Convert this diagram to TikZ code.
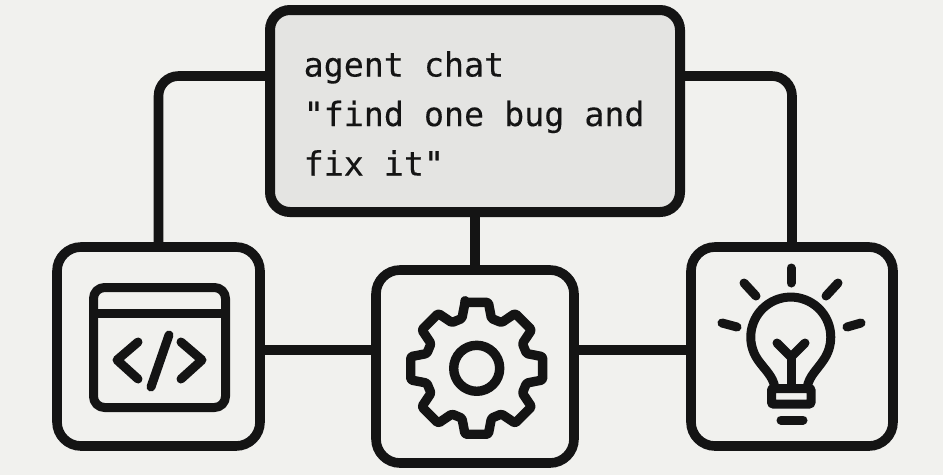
\documentclass[tikz,border=0pt]{standalone}
\usepackage{fontspec}
\usetikzlibrary{calc}
\newfontfamily\labelfont[FakeBold=0.3]{DejaVu Sans Mono}
\definecolor{paper}{HTML}{F1F1EE}
\definecolor{ink}{HTML}{141414}
\definecolor{panel}{HTML}{E4E4E2}
\tikzset{
  frame/.style={draw=ink,line width=9.6pt,rectangle,rounded corners=24pt,outer sep=0pt,inner sep=0pt},
  conn/.style={draw=ink,line width=9.6pt,rounded corners=20pt},
  glyph/.style={draw=ink,line width=9pt,line cap=round,line join=round},
}
\begin{document}
\begin{tikzpicture}[x=1pt,y=-1pt]
\useasboundingbox (0,0) rectangle (943,475);
\fill[paper] (0,0) rectangle (943,475);
% boxes
\node[frame,fill=panel,line width=10pt,rounded corners=20pt,minimum width=410pt,minimum height=202pt] (chat) at (475,111) {};
\node[frame,minimum width=203pt,minimum height=199pt] (code) at (158.5,346.5) {};
\node[frame,minimum width=198pt,minimum height=193pt] (gear) at (475,366.5) {};
\node[frame,minimum width=202pt,minimum height=199pt] (idea) at (792,346.5) {};
% connectors
\coordinate (chatL) at (chat.west |- 0,76);
\coordinate (chatR) at (chat.east |- 0,76);
\draw[conn] (chatL) -| (code.north);
\draw[conn] (chatR) -| (idea.north);
\draw[conn] (chat.south -| gear.north) -- (gear.north);
\coordinate (codeE) at (code.east |- 0,350);
\coordinate (gearW) at (gear.west |- 0,350);
\coordinate (gearE) at (gear.east |- 0,350);
\coordinate (ideaW) at (idea.west |- 0,350);
\draw[conn] (codeE) -- (gearW);
\draw[conn] (gearE) -- (ideaW);
% text
\node[anchor=base west,inner sep=0pt,align=left,text=ink,font=\labelfont\fontsize{33.3}{49.5}\selectfont] (label) at (303.5,175.5) {agent chat\\"find one bug and\\fix it"};
% browser icon
\draw[glyph,rounded corners=11pt] (93.5,287.5) rectangle (225.5,407.5);
\draw[glyph,line cap=butt] (93.5,313) -- (225.5,313);
\draw[glyph] (138,342) -- (117,360) -- (138,379);
\draw[glyph] (181,342) -- (202,360) -- (181,379);
\draw[glyph] (169,335) -- (151,387);
% gear icon
\draw[glyph,line width=9.4pt] (476.7,368.3) circle (23);
\draw[glyph,line width=9.4pt,rounded corners=1.5pt]
  ($(476.7,368.3)+(-100:67)$)
  \foreach \a in {0,45,...,315}{
    -- ($(476.7,368.3)+(\a-100:67)$)
    -- ($(476.7,368.3)+(\a-80:67)$)
    -- ($(476.7,368.3)+(\a-73.5:52)$)
    -- ($(476.7,368.3)+(\a-61.5:52)$)
  } -- cycle;
% bulb icon
\draw[glyph] (775,388) .. controls (773,376) and (765,370) .. (758,360)
  arc[start angle=145,end angle=395,radius=40] .. controls (817,370) and (809,376) .. (807,388);
\draw[glyph,line cap=butt,rounded corners=1pt] (771.5,388.5) rectangle (811,404);
\draw[glyph] (791,388) -- (791,357);
\draw[glyph] (777,343) -- (791,357) -- (805,343);
\draw[glyph] (781,420) -- (803,420);
\draw[glyph] (791,268) -- (791,283);
\draw[glyph] (744,283) -- (756,296);
\draw[glyph] (838,283) -- (826,296);
\draw[glyph] (722,323) -- (737,327);
\draw[glyph] (861,323) -- (847,327);
\end{tikzpicture}
\end{document}
